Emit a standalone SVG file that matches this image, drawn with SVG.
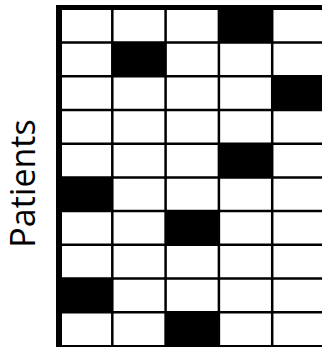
<svg xmlns="http://www.w3.org/2000/svg" width="322" height="347" viewBox="0 0 322 347">
<style>
.cell{fill:#000}
.ln{stroke:#000;stroke-width:2.5;fill:none}
.border{stroke:#000;fill:none}
.lbl{font-family:"Open Sans","Liberation Sans",sans-serif;font-size:34px;fill:#000}
</style>
<rect x="0" y="0" width="322" height="347" fill="#fff"/>
<g id="cells">
<rect class="cell" x="218.9" y="8.8" width="53.3" height="33.7"/>
<rect class="cell" x="112.3" y="42.5" width="53.3" height="33.7"/>
<rect class="cell" x="272.2" y="76.2" width="53.3" height="33.8"/>
<rect class="cell" x="218.9" y="143.4" width="53.3" height="33.7"/>
<rect class="cell" x="59" y="177.1" width="53.3" height="33.7"/>
<rect class="cell" x="165.6" y="210.8" width="53.3" height="34"/>
<rect class="cell" x="59" y="278.6" width="53.3" height="33.7"/>
<rect class="cell" x="165.6" y="312.3" width="53.3" height="34"/>
</g>
<g id="grid">
<path class="ln" d="M59 42.5H322M59 76.2H322M59 110H322M59 143.7H322M59 177.4H322M59 211.1H322M59 244.8H322M59 278.6H322M59 312.3H322"/>
<path class="ln" d="M112.3 8V347M165.6 8V347M218.9 8V347M272.2 8V347"/>
<path class="border" stroke-width="5" d="M56 7.5H322"/>
<path class="border" stroke-width="6" d="M59 5V347"/>
<path class="border" stroke-width="2.5" d="M56 346.2H322"/>
</g>
<text class="lbl" transform="translate(35,183.5) rotate(-90)" text-anchor="middle">Patients</text>
</svg>
